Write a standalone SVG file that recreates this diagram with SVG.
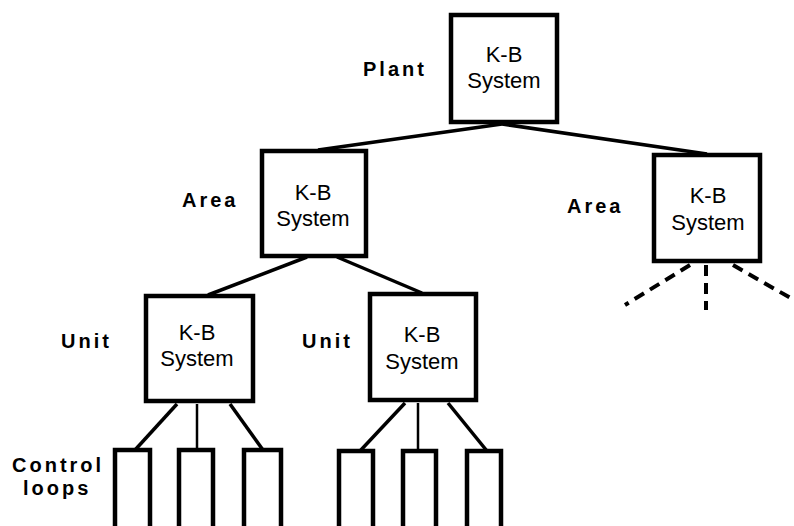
<svg xmlns="http://www.w3.org/2000/svg" width="794" height="526" viewBox="0 0 794 526">
<style>
.box{fill:#fff;stroke:#000;stroke-width:4.5}
.loop{fill:none;stroke:#000;stroke-width:4.5}
.t{font-family:"Liberation Sans",Arial,sans-serif;font-size:22px;text-anchor:middle;fill:#000}
.lbl{font-family:"Liberation Sans",Arial,sans-serif;font-size:20px;font-weight:bold;letter-spacing:3px;fill:#000}
.c{stroke:#000;stroke-width:3.5;fill:none;stroke-linecap:butt}
.thin{stroke:#000;stroke-width:2.5;fill:none}
.d{stroke:#000;stroke-width:4;fill:none;stroke-dasharray:11 7}
</style>
<rect width="794" height="526" fill="#fff"/>
<g id="connectors">
<line class="c" x1="502" y1="124" x2="318" y2="150"/>
<line class="c" x1="502" y1="124" x2="707" y2="154"/>
<line class="c" x1="307" y1="257" x2="208" y2="295"/>
<line class="c" x1="337" y1="257" x2="422" y2="293"/>
<line class="c" x1="177" y1="404" x2="135" y2="450"/>
<line class="thin" x1="197" y1="404" x2="197" y2="450"/>
<line class="c" x1="230" y1="404" x2="263" y2="450"/>
<line class="c" x1="405" y1="403" x2="360" y2="451"/>
<line class="thin" x1="418" y1="403" x2="418" y2="451"/>
<line class="c" x1="448" y1="403" x2="487" y2="451"/>
<line class="d" x1="690" y1="265" x2="625" y2="305"/>
<line class="d" x1="706" y1="265" x2="706" y2="310"/>
<line class="d" x1="733" y1="265" x2="794" y2="300"/>
</g>
<g id="plant">
<rect class="box" x="451" y="15" width="106" height="107"/>
<text class="t" x="504" y="62">K-B</text>
<text class="t" x="504" y="88">System</text>
<text class="lbl" x="363" y="76">Plant</text>
</g>
<g id="area-left">
<rect class="box" x="262" y="151" width="104" height="105"/>
<text class="t" x="313" y="200">K-B</text>
<text class="t" x="313" y="226">System</text>
<text class="lbl" x="182" y="207">Area</text>
</g>
<g id="area-right">
<rect class="box" x="654" y="155" width="106" height="106"/>
<text class="t" x="708" y="203">K-B</text>
<text class="t" x="708" y="230">System</text>
<text class="lbl" x="567" y="213">Area</text>
</g>
<g id="unit-left">
<rect class="box" x="146" y="296" width="107" height="105"/>
<text class="t" x="197" y="340">K-B</text>
<text class="t" x="197" y="366">System</text>
<text class="lbl" x="61" y="348">Unit</text>
</g>
<g id="unit-right">
<rect class="box" x="370" y="294" width="106" height="106"/>
<text class="t" x="422" y="342">K-B</text>
<text class="t" x="422" y="369">System</text>
<text class="lbl" x="302" y="348">Unit</text>
</g>
<g id="control-loops">
<text class="lbl" x="12" y="472">Control</text>
<text class="lbl" x="23" y="495">loops</text>
<path class="loop" d="M115 530V450H150V530"/>
<path class="loop" d="M179 530V450H213V530"/>
<path class="loop" d="M244 530V450H281V530"/>
<path class="loop" d="M339 530V451H373V530"/>
<path class="loop" d="M403 530V451H436V530"/>
<path class="loop" d="M467 530V451H501V530"/>
</g>
</svg>
